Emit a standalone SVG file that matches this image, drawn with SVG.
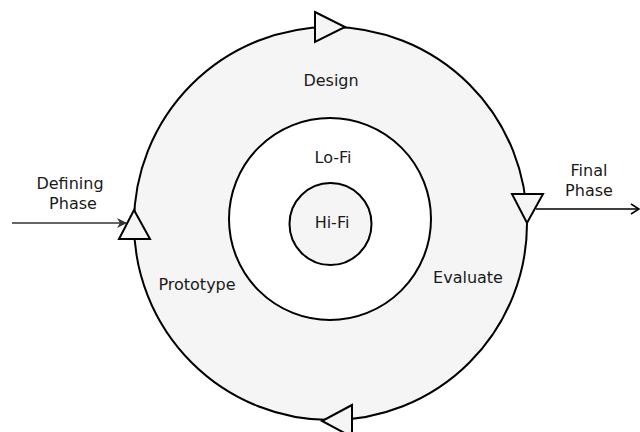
<svg xmlns="http://www.w3.org/2000/svg" width="640" height="432" viewBox="0 0 640 432">
<style>
  .lbl { font-family: "DejaVu Sans", Verdana, sans-serif; font-size: 16px; fill: #1a1a1a; text-anchor: middle; }
  .ring { stroke: #000; stroke-width: 2; }
  .tri { fill: #f5f5f5; stroke: #000; stroke-width: 2; stroke-linejoin: miter; }
  .arr { stroke: #333; stroke-width: 1.5; fill: none; }
</style>
<defs>
  <marker id="blk" markerWidth="10" markerHeight="10" refX="9" refY="5" orient="auto" markerUnits="userSpaceOnUse">
    <path d="M0,0 L10,5 L0,10 L3,5 Z" fill="#333"/>
  </marker>
  <marker id="opn" markerWidth="10" markerHeight="12" refX="9" refY="6" orient="auto" markerUnits="userSpaceOnUse">
    <path d="M1,1 L9,6 L1,11" fill="none" stroke="#000" stroke-width="1.5"/>
  </marker>
</defs>
<rect width="640" height="432" fill="#fff"/>
<g id="outer-ring">
  <circle class="ring" cx="330.5" cy="223.5" r="196.5" fill="#f5f5f5"/>
  <text class="lbl" x="331" y="86">Design</text>
  <text class="lbl" x="197" y="290">Prototype</text>
  <text class="lbl" x="468" y="283">Evaluate</text>
</g>
<g id="lofi">
  <circle class="ring" cx="330" cy="219" r="101" fill="#fff"/>
  <text class="lbl" x="333" y="163">Lo-Fi</text>
</g>
<g id="hifi">
  <circle class="ring" cx="330.5" cy="224" r="41" fill="#f5f5f5"/>
  <text class="lbl" x="332" y="228">Hi-Fi</text>
</g>
<g id="defining-phase">
  <text class="lbl" x="70" y="189">Defining</text>
  <text class="lbl" x="73" y="209">Phase</text>
</g>
<g id="final-phase">
  <text class="lbl" x="589" y="176">Final</text>
  <text class="lbl" x="589" y="196">Phase</text>
</g>
<g id="connectors">
  <polygon class="tri" points="315,12 345,27 315,42"/>
  <polygon class="tri" points="512,194 543,194 527,223"/>
  <polygon class="tri" points="352,405 322,421 352,437"/>
  <polygon class="tri" points="134,210 150,239 119,239"/>
  <line class="arr" x1="12" y1="223" x2="126" y2="223" marker-end="url(#blk)"/>
  <line x1="536" y1="209" x2="639" y2="209" stroke="#000" stroke-width="1.5" marker-end="url(#opn)"/>
</g>
</svg>
